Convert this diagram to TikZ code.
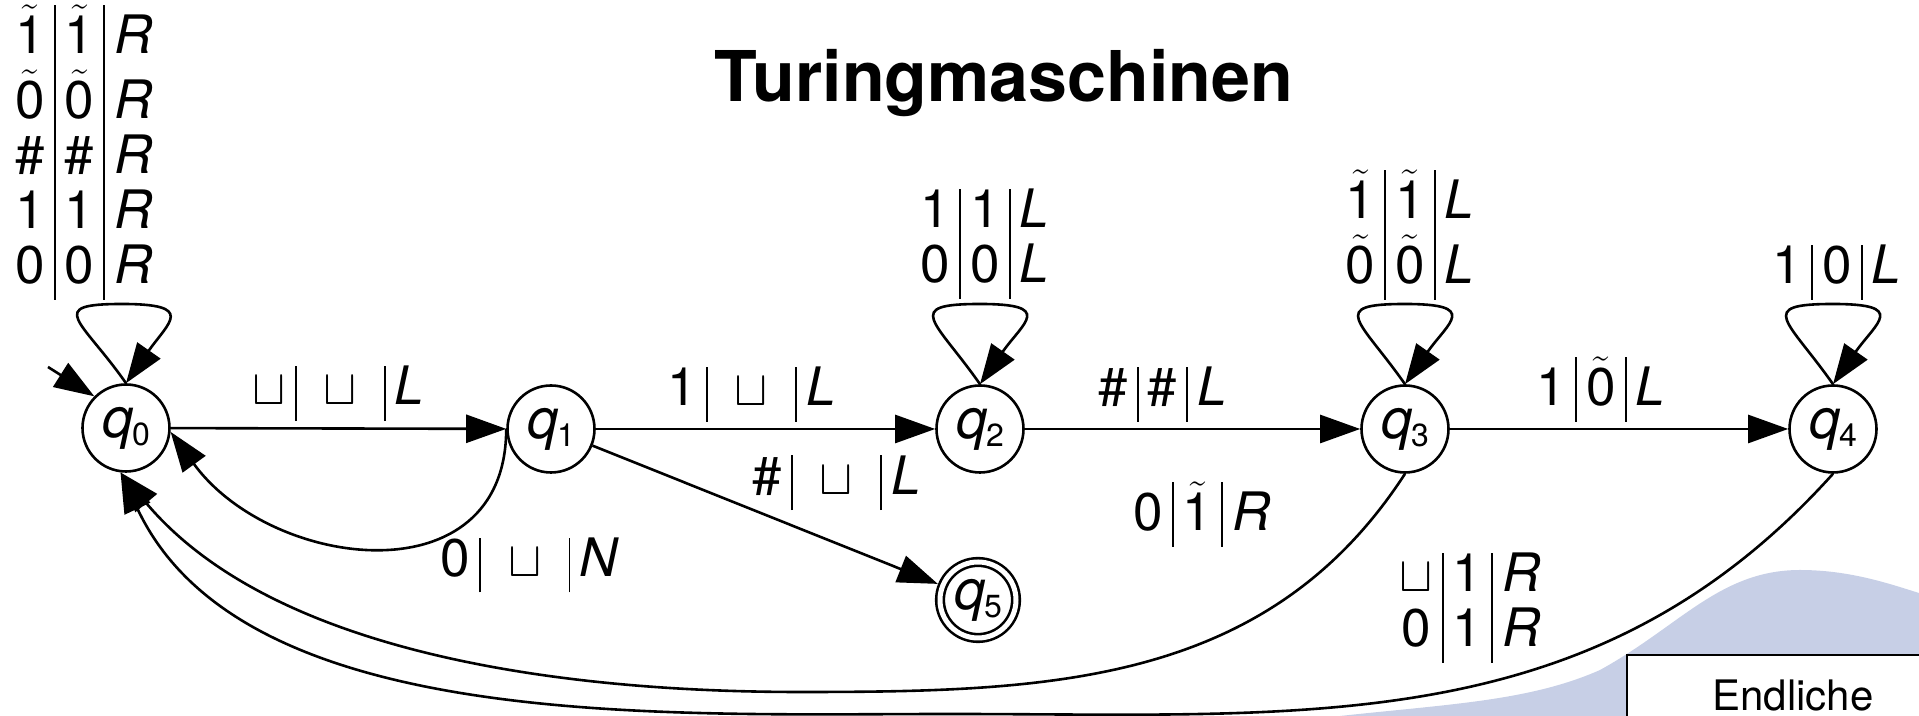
\documentclass[tikz,border=0pt]{standalone}
\usepackage{fontspec}
\setmainfont{TeX Gyre Heros}
\usetikzlibrary{arrows.meta}

\definecolor{bgblue}{RGB}{199,207,230}
\setlength\tabcolsep{5pt}
\setlength\arrayrulewidth{0.9pt}

\newcommand\qs[1]{\textit{q}\kern-0.5pt\raisebox{-4pt}{\fontsize{16pt}{16pt}\selectfont #1}}
\newcommand\blnk{$\sqcup$}
\newcommand\wblnk{\kern9pt$\sqcup$\kern9pt}
\newcommand\tl[1]{$\tilde{\mbox{#1}}$}

\begin{document}
\begin{tikzpicture}[x=0.5pt, y=0.5pt,
	state/.style={circle, draw, line width=1.3pt, minimum size=43.5pt, inner sep=0pt, font=\fontsize{28pt}{28pt}\selectfont},
	final/.style={state, double, double distance=2.5pt, minimum size=38pt},
	trans/.style={line width=1.3pt, -{Triangle[length=20pt, width=14pt]}},
	lbl/.style={inner sep=0pt, font=\fontsize{26.5pt}{27pt}\selectfont}]

			\path[use as bounding box] (0,0) rectangle (1919,716);
			\clip (0,0) rectangle (1919,716);

			% Background shape in the corner
			\fill[bgblue] (1340,0) .. controls (1450,12) and (1530,15) .. (1600,46)
				.. controls (1680,90) and (1720,146) .. (1800,146)
				.. controls (1850,146) and (1890,132) .. (1919,123) -- (1919,0) -- cycle;

			\node[font=\fontsize{35pt}{35pt}\selectfont\bfseries, anchor=base] (title) at (1004,614) {Turingmaschinen};

			% Draw the states
			\node[state] (q0) at (126,288) {\qs0};
			\node[state] (q1) at (551,287) {\qs1};
			\node[state] (q2) at (980,287) {\qs2};
			\node[state] (q3) at (1405,287) {\qs3};
			\node[state] (q4) at (1833,287) {\qs4};
			\node[final] (q5) at (978,116) {\qs5};

			\coordinate (start) at (48,349);
			\draw[trans] (start) -- (q0.135);

			% Draw the loops
			\coordinate (l0) at (122,412);
			\coordinate (l2) at (980,412);
			\coordinate (l3) at (1405,412);
			\coordinate (l4) at (1833,412);
			\draw[trans] (q0.north) to[out=125, in=180, looseness=2.5] (l0) to[out=0, in=55, looseness=2.4] (q0.north);
			\draw[trans] (q2.north) to[out=125, in=180, looseness=2.5] (l2) to[out=0, in=55, looseness=2.4] (q2.north);
			\draw[trans] (q3.north) to[out=125, in=180, looseness=2.5] (l3) to[out=0, in=55, looseness=2.4] (q3.north);
			\draw[trans] (q4.north) to[out=125, in=180, looseness=2.5] (l4) to[out=0, in=55, looseness=2.4] (q4.north);

			\node[lbl, anchor=south] (t00) at (84,416) {\begin{tabular}{@{}c|c|c@{}}
				\tl1 & \tl1 & \textit{R}\\ \tl0 & \tl0 & \textit{R}\\ \# & \# & \textit{R}\\
				1 & 1 & \textit{R}\\ 0 & 0 & \textit{R} \end{tabular}};
			\node[lbl, anchor=south] (t22) at (985,417) {\begin{tabular}{@{}c|c|c@{}}
				1 & 1 & \textit{L}\\ 0 & 0 & \textit{L} \end{tabular}};
			\node[lbl, anchor=south] (t33) at (1410,416) {\begin{tabular}{@{}c|c|c@{}}
				\tl1 & \tl1 & \textit{L}\\ \tl0 & \tl0 & \textit{L} \end{tabular}};
			\node[lbl, anchor=south] (t44) at (1837,416) {\begin{tabular}{@{}c|c|c@{}}
				1 & 0 & \textit{L} \end{tabular}};

			% Draw the transitions to the right
			\draw[trans] (q0) -- (q1) node[lbl, midway, above=3pt] (t01)
				{\begin{tabular}{@{}c|c|c@{}} \blnk & \wblnk & \textit{L} \end{tabular}};
			\draw[trans] (q1) -- (q2) node[lbl, midway, above=3pt, xshift=-7pt] (t12)
				{\begin{tabular}{@{}c|c|c@{}} 1 & \wblnk & \textit{L} \end{tabular}};
			\draw[trans] (q2) -- (q3) node[lbl, midway, above=3pt, xshift=-15pt] (t23)
				{\begin{tabular}{@{}c|c|c@{}} \# & \# & \textit{L} \end{tabular}};
			\draw[trans] (q3) -- (q4) node[lbl, midway, above=3pt, xshift=-9pt] (t34)
				{\begin{tabular}{@{}c|c|c@{}} 1 & \tl0 & \textit{L} \end{tabular}};
			\draw[trans, shorten >=2pt] (q1) -- (q5) node[lbl, midway, anchor=south west, xshift=-8pt, yshift=2pt] (t15)
				{\begin{tabular}{@{}c|c|c@{}} \# & \wblnk & \textit{L} \end{tabular}};

			% Draw the transitions back to q0
			\draw[trans] (q1.west) to[out=-90, in=-54, looseness=1.3] (q0.-5);
			\node[lbl] (t10) at (530,151) {\begin{tabular}{@{}c|c|c@{}} 0 & \wblnk & \textit{N} \end{tabular}};

			\coordinate (b3) at (800,24);
			\coordinate (b4) at (950,2);
			\draw[trans] (q3.south) to[out=237, in=0] (b3) to[out=180, in=-50, looseness=0.85] (q0.-97);
			\draw[trans] (q4.south) to[out=228, in=0] (b4) to[out=180, in=-65, looseness=0.85] (q0.-97);

			\node[lbl, anchor=south] (t30) at (1202,169) {\begin{tabular}{@{}c|c|c@{}} 0 & \tl1 & \textit{R} \end{tabular}};
			\node[lbl, anchor=south] (t40) at (1470,53) {\begin{tabular}{@{}c|c|c@{}}
				\blnk & 1 & \textit{R}\\ 0 & 1 & \textit{R} \end{tabular}};

			% Box in the corner
			\draw[line width=1.3pt, fill=white] (1627,61) rectangle (1960,-40);
			\node[anchor=base west, inner sep=0pt, font=\fontsize{21pt}{21pt}\selectfont] (fsm) at (1712,5) {Endliche};

\end{tikzpicture}
\end{document}
